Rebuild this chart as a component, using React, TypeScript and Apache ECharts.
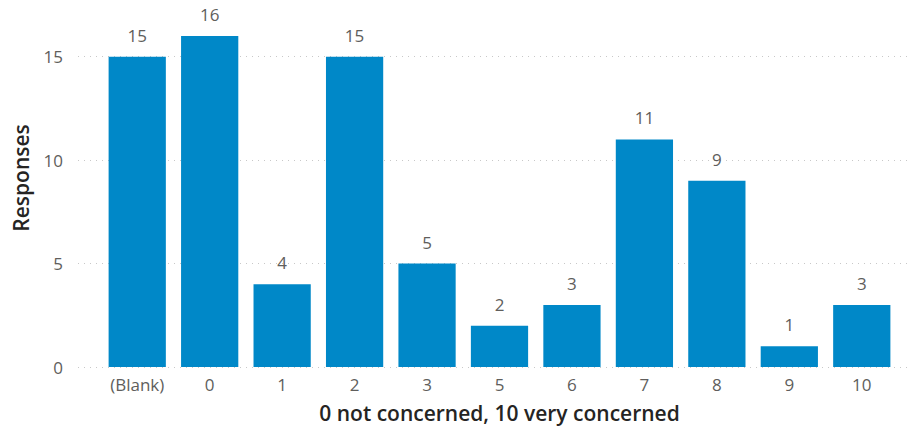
import React, { useEffect, useRef } from "react";
import * as echarts from "echarts";

const categories = ["(Blank)", "0", "1", "2", "3", "5", "6", "7", "8", "9", "10"];
const responses = [15, 16, 4, 15, 5, 2, 3, 11, 9, 1, 3];
const yMax = 16;
const yInterval = 5;

const FONT = "'Open Sans', 'Noto Sans', sans-serif";
const LABEL = "#605E5C";
const TITLE = "#252423";
const BAR = "#0088C8";

export default function App() {
  const ref = useRef<HTMLDivElement>(null);
  useEffect(() => {
    if (!ref.current) return;
    const chart = echarts.init(ref.current, undefined, { renderer: "svg" });
    chart.setOption({
      animation: false,
      textStyle: { fontFamily: FONT },
      grid: [
        { left: 78, right: 6, top: 36, bottom: 65, containLabel: false },
        { left: 101, right: 16, top: 36, bottom: 65, containLabel: false },
      ],
      xAxis: [
        {
          type: "category",
          gridIndex: 0,
          data: categories,
          show: false,
        },
        {
          type: "category",
          gridIndex: 1,
          data: categories,
          axisLine: { show: false },
          axisTick: { show: false },
          axisLabel: { color: LABEL, fontSize: 17, margin: 9, fontFamily: FONT },
          name: "0 not concerned, 10 very concerned",
          nameLocation: "middle",
          nameGap: 35,
          nameTextStyle: { color: TITLE, fontSize: 21, fontWeight: 600, fontFamily: FONT },
        },
      ],
      yAxis: [
        {
          type: "value",
          gridIndex: 0,
          min: 0,
          max: yMax,
          interval: yInterval,
          axisLine: { show: false },
          axisTick: { show: false },
          axisLabel: { color: LABEL, fontSize: 17, margin: 15, showMaxLabel: false, fontFamily: FONT },
          splitLine: {
            show: true,
            showMaxLine: false,
            lineStyle: { color: "#C8C8C8", type: [1, 5], width: 1 },
          },
        },
        {
          type: "value",
          gridIndex: 1,
          min: 0,
          max: yMax,
          interval: yInterval,
          show: false,
          splitLine: { show: false },
        },
      ],
      graphic: [
        {
          type: "text",
          x: 21,
          y: 178,
          rotation: Math.PI / 2,
          style: {
            text: "Responses",
            fill: TITLE,
            font: `600 21px ${FONT}`,
            align: "center",
            verticalAlign: "middle",
          },
        },
      ],
      series: [
        {
          type: "bar",
          xAxisIndex: 1,
          yAxisIndex: 1,
          data: responses,
          barCategoryGap: "21%",
          itemStyle: { color: BAR },
          label: {
            show: true,
            position: "top",
            distance: 13,
            color: LABEL,
            fontSize: 17,
            fontFamily: FONT,
          },
        },
      ],
    });
    return () => chart.dispose();
  }, []);
  return (
    <div
      ref={ref}
      style={{ position: "absolute", left: 0, top: 0, width: 914, height: 432, background: "#fff" }}
    />
  );
}
